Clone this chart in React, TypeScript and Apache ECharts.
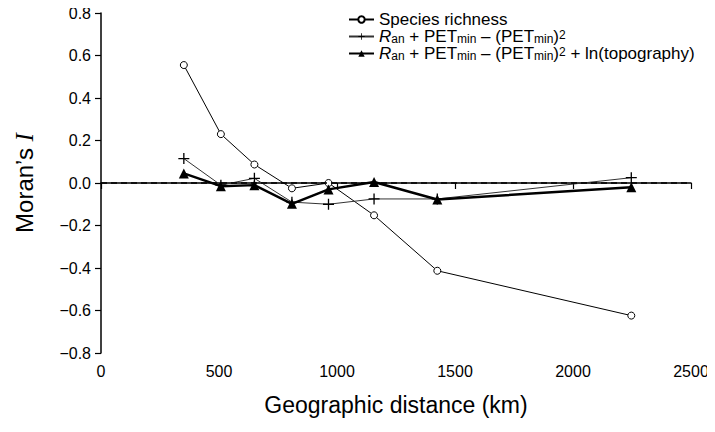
import React, { useEffect, useRef } from "react";
import * as echarts from "echarts";

const distances = [351, 508, 650, 809, 964, 1157, 1425, 2247];
const speciesRichness = [0.555, 0.23, 0.087, -0.025, 0.0, -0.152, -0.413, -0.624];
const modelClimate = [0.115, -0.01, 0.022, -0.09, -0.1, -0.075, -0.075, 0.025];
const modelTopo = [0.045, -0.015, -0.01, -0.098, -0.03, 0.005, -0.078, -0.02];
const xTicks = [0, 500, 1000, 1500, 2000, 2500];
const yTicks = [-0.8, -0.6, -0.4, -0.2, 0, 0.2, 0.4, 0.6, 0.8];

const seriesNames = ["Species richness", "Climate model", "Climate + topography model"];
const legendLabels: Record<string, string> = {
  "Species richness": "Species richness",
  "Climate model": "{i|R}{sub|an} + PET{sub|min} \u2013 (PET{sub|min}){sup|2}",
  "Climate + topography model":
    "{i|R}{sub|an} + PET{sub|min} \u2013 (PET{sub|min}){sup|2} + ln(topography)",
};

const plusPath = "path://M4.4,0 H5.6 V4.4 H10 V5.6 H5.6 V10 H4.4 V5.6 H0 V4.4 H4.4 Z";
const FONT = "Liberation Sans, Arial, Helvetica, sans-serif";

export default function App() {
  const ref = useRef<HTMLDivElement>(null);
  useEffect(() => {
    if (!ref.current) return;
    const chart = echarts.init(ref.current, undefined, { renderer: "svg" });
    const pts = (ys: number[]) => distances.map((d, i) => [d, ys[i]]);
    chart.setOption({
      animation: false,
      backgroundColor: "#fff",
      grid: { left: 101, right: 24, top: 13, bottom: 79, containLabel: false },
      legend: {
        show: true,
        orient: "vertical",
        left: 343,
        top: 6,
        itemWidth: 25,
        itemHeight: 8,
        itemGap: 0,
        data: seriesNames,
        formatter: (name: string) => legendLabels[name],
        textStyle: {
          fontFamily: FONT,
          fontSize: 17,
          color: "#000",
          lineHeight: 16,
          rich: {
            i: { fontFamily: FONT, fontSize: 17, fontStyle: "italic", color: "#000", lineHeight: 16 },
            sub: { fontFamily: FONT, fontSize: 12, color: "#000", verticalAlign: "bottom", lineHeight: 4 },
            sup: { fontFamily: FONT, fontSize: 12, color: "#000", verticalAlign: "top", lineHeight: 2 },
          },
        },
      },
      xAxis: {
        type: "value",
        min: xTicks[0],
        max: xTicks[xTicks.length - 1],
        interval: 500,
        name: "Geographic distance (km)",
        nameLocation: "middle",
        nameGap: 40,
        nameTextStyle: { fontFamily: FONT, fontSize: 23, color: "#000" },
        axisLine: { lineStyle: { color: "#000", width: 1.5 } },
        axisTick: { show: true, length: 6, lineStyle: { color: "#000", width: 1.2 } },
        axisLabel: {
          fontFamily: FONT,
          fontSize: 16,
          color: "#000",
          margin: 10,
          formatter: (v: number) => String(v),
        },
        splitLine: { show: false },
      },
      yAxis: {
        type: "value",
        min: yTicks[0],
        max: yTicks[yTicks.length - 1],
        interval: 0.2,
        name: "Moran\u2019s {i|I}",
        nameLocation: "middle",
        nameRotate: 90,
        nameGap: 64,
        nameTextStyle: {
          fontFamily: FONT,
          fontSize: 24,
          color: "#000",
          rich: {
            i: { fontFamily: "Liberation Serif, Times New Roman, serif", fontStyle: "italic", fontSize: 25, color: "#000" },
          },
        },
        axisLine: { lineStyle: { color: "#000", width: 1.5 } },
        axisTick: { show: true, length: 6, lineStyle: { color: "#000", width: 1.2 } },
        axisLabel: {
          fontFamily: FONT,
          fontSize: 16,
          color: "#000",
          margin: 10,
          formatter: (v: number) => {
            const s = Math.abs(v).toFixed(1);
            return v < -1e-9 ? "\u2212" + s : s;
          },
        },
        splitLine: { show: false },
      },
      series: [
        {
          name: seriesNames[0],
          type: "line",
          data: pts(speciesRichness),
          symbol: "circle",
          symbolSize: 7,
          itemStyle: { color: "#fff", borderColor: "#000", borderWidth: 1 },
          lineStyle: { color: "#000", width: 1 },
          z: 3,
          markLine: {
            silent: true,
            symbol: "none",
            label: { show: false },
            lineStyle: { color: "#000", width: 1.6, type: [6, 4] },
            data: [{ yAxis: 0 }],
          },
        },
        {
          name: seriesNames[1],
          type: "line",
          data: pts(modelClimate),
          symbol: plusPath,
          symbolSize: 11,
          itemStyle: { color: "#000" },
          lineStyle: { color: "#333", width: 1 },
          z: 4,
        },
        {
          name: seriesNames[2],
          type: "line",
          data: pts(modelTopo),
          symbol: "triangle",
          symbolSize: 10,
          itemStyle: { color: "#000" },
          lineStyle: { color: "#000", width: 2.5 },
          z: 5,
        },
      ],
    });
    return () => chart.dispose();
  }, []);
  return <div ref={ref} style={{ width: 715, height: 432, margin: -8 }} />;
}
